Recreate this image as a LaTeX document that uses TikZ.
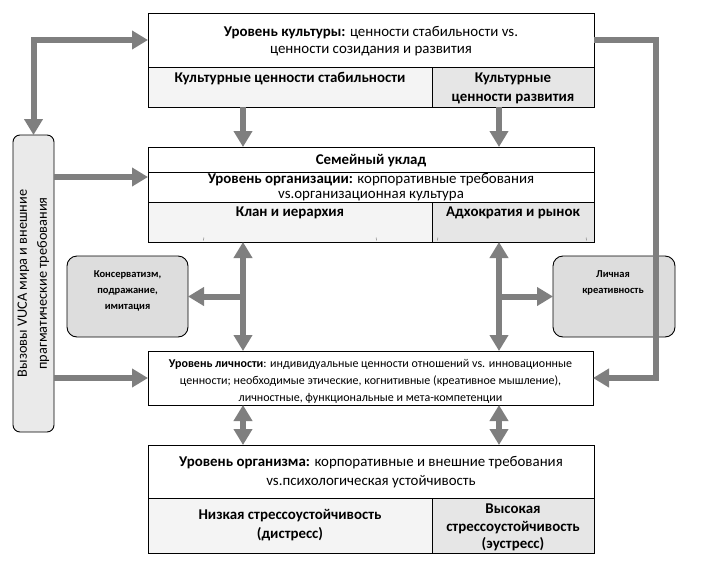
\documentclass[tikz,border=0pt]{standalone}
\usepackage{fontspec}
\setmainfont{Carlito}
\usetikzlibrary{arrows.meta,calc}
\definecolor{arrgray}{HTML}{7F7F7F}
\definecolor{cellA}{HTML}{F4F4F4}
\definecolor{cellB}{HTML}{E6E6E6}
\definecolor{roundfill}{HTML}{DDDDDD}
\begin{document}
\begin{tikzpicture}[x=1pt,y=-1pt,
  cell/.style={draw=black, line width=0.9pt, anchor=north west, inner sep=0pt, outer sep=0pt},
  rbox/.style={draw=black, line width=0.9pt, fill=roundfill, rounded corners=10pt, inner sep=0pt, outer sep=0pt},
  tbig/.style={align=center, inner sep=0pt, font=\fontsize{14.9}{17}\selectfont},
  tsmall/.style={align=center, inner sep=0pt, font=\fontsize{12}{17}\selectfont},
  tround/.style={align=center, inner sep=0pt, font=\fontsize{10.5}{16}\selectfont\bfseries},
  garrow/.style={draw=arrgray, line width=6pt, line join=miter, -{Triangle[width=18pt,length=16pt]}},
  gboth/.style={draw=arrgray, line width=6pt, line join=miter, {Triangle[width=18pt,length=16pt]}-{Triangle[width=18pt,length=16pt]}},
  tick/.style={draw=gray, line width=0.5pt}
]
\useasboundingbox (0,0) rectangle (701,581);

% helper x-positions of the vertical arrows
\coordinate (ax) at (243,0);
\coordinate (bx) at (499,0);
\coordinate (rc) at (656,0);
\coordinate (la) at (0,177);

% Culture level
\node[cell, minimum width=446pt, minimum height=54pt] (culthead) at (148,13) {};
\node[cell, fill=cellA, minimum width=284pt, minimum height=40pt] (cultL) at (148,67) {};
\node[cell, fill=cellB, minimum width=162pt, minimum height=40pt] (cultR) at (432,67) {};
\node[tbig] (cultT) at (371,41.5) {\textbf{Уровень культуры:} ценности стабильности vs.\\ценности созидания и развития};
\node[tbig] (cultLT) at (290,79) {\textbf{Культурные ценности стабильности}};
\node[tbig, font=\fontsize{14.9}{18.5}\selectfont\bfseries] (cultRT) at (513,88.5) {Культурные\\ценности развития};

% Organisation level
\node[cell, minimum width=446pt, minimum height=25pt] (orgtop) at (148,147) {};
\node[cell, minimum width=446pt, minimum height=30pt] (orgmid) at (148,172) {};
\node[cell, fill=cellA, minimum width=284pt, minimum height=40pt] (orgL) at (148,202) {};
\node[cell, fill=cellB, minimum width=162pt, minimum height=40pt] (orgR) at (432,202) {};
\node[tbig] (orgtopT) at (371,160.5) {\textbf{Семейный уклад}};
\node[tbig, font=\fontsize{14.9}{15}\selectfont] (orgmidT) at (371,187.5) {\textbf{Уровень организации:} корпоративные требования\\vs.организационная культура};
\node[tbig] (orgLT) at (290,213) {\textbf{Клан и иерархия}};
\node[tbig] (orgRT) at (513,213) {\textbf{Адхократия и рынок}};
\draw[tick] (204,237.5) -- (203.3,240.5);
\draw[tick] (376,237.5) -- (376.7,240.5);
\draw[tick] (438,237.5) -- (437.3,240.5);
\draw[tick] (586,237.5) -- (586.7,240.5);

% Personal level
\node[cell, minimum width=445pt, minimum height=54pt] (pers) at (148,351) {};
\node[tsmall] (persT) at (370.5,381) {\textbf{Уровень личности}: индивидуальные ценности отношений vs. инновационные\\ценности; необходимые этические, когнитивные (креативное мышление),\\личностные, функциональные и мета-компетенции};

% Organism level
\node[cell, minimum width=446pt, minimum height=53pt] (orghead) at (148,445) {};
\node[cell, fill=cellA, minimum width=284pt, minimum height=55pt] (orgmL) at (148,498) {};
\node[cell, fill=cellB, minimum width=162pt, minimum height=55pt] (orgmR) at (432,498) {};
\node[tbig, font=\fontsize{14.9}{19}\selectfont] (orgheadT) at (371,472) {\textbf{Уровень организма:} корпоративные и внешние требования\\vs.психологическая устойчивость};
\node[tbig, font=\fontsize{14.9}{19}\selectfont\bfseries] (orgmLT) at (290,525) {Низкая стрессоустойчивость\\(дистресс)};
\node[tbig, font=\fontsize{14.9}{17.5}\selectfont\bfseries] (orgmRT) at (513,527.5) {Высокая\\стрессоустойчивость\\(эустресс)};

% Side boxes
\node[rbox, minimum width=121pt, minimum height=81pt] (cons) at (127.5,296.5) {};
\node[tround] (consT) at (127.5,291) {Консерватизм,\\подражание,\\имитация};
\node[rbox, minimum width=122pt, minimum height=81pt] (lichn) at (614,296.5) {};
\node[tround] (lichnT) at (613,282.5) {Личная\\креативность};

% VUCA box (rotated: east = top, south = right side on the page)
\node[rbox, rounded corners=7pt, fill=cellB!85!white, rotate=90, minimum width=297pt, minimum height=41pt,
      align=center, font=\fontsize{14.3}{20}\selectfont] (vyz) at (33.5,283.5)
      {Вызовы VUCA мира и внешние\\прагматические требования};

% Connectors
\draw[gboth] (vyz.east) |- (culthead.west);
\draw[garrow] (vyz.south |- la) -- (orgmid.west |- la);
\draw[garrow] (vyz.south |- pers.west) -- (pers.west);
\draw[garrow] (cultL.south -| ax) -- (orgtop.north -| ax);
\draw[garrow] (cultR.south -| bx) -- (orgtop.north -| bx);
\draw[gboth] (orgL.south -| ax) -- (pers.north -| ax);
\draw[gboth] (orgR.south -| bx) -- (pers.north -| bx);
\draw[garrow] (cons.east -| ax) -- (cons.east);
\draw[garrow] (lichn.west -| bx) -- (lichn.west);
\draw[gboth] (pers.south -| ax) -- (orghead.north -| ax);
\draw[gboth] (pers.south -| bx) -- (orghead.north -| bx);
\draw[garrow] (culthead.east) -- (culthead.east -| rc) |- (pers.east);
\end{tikzpicture}
\end{document}
